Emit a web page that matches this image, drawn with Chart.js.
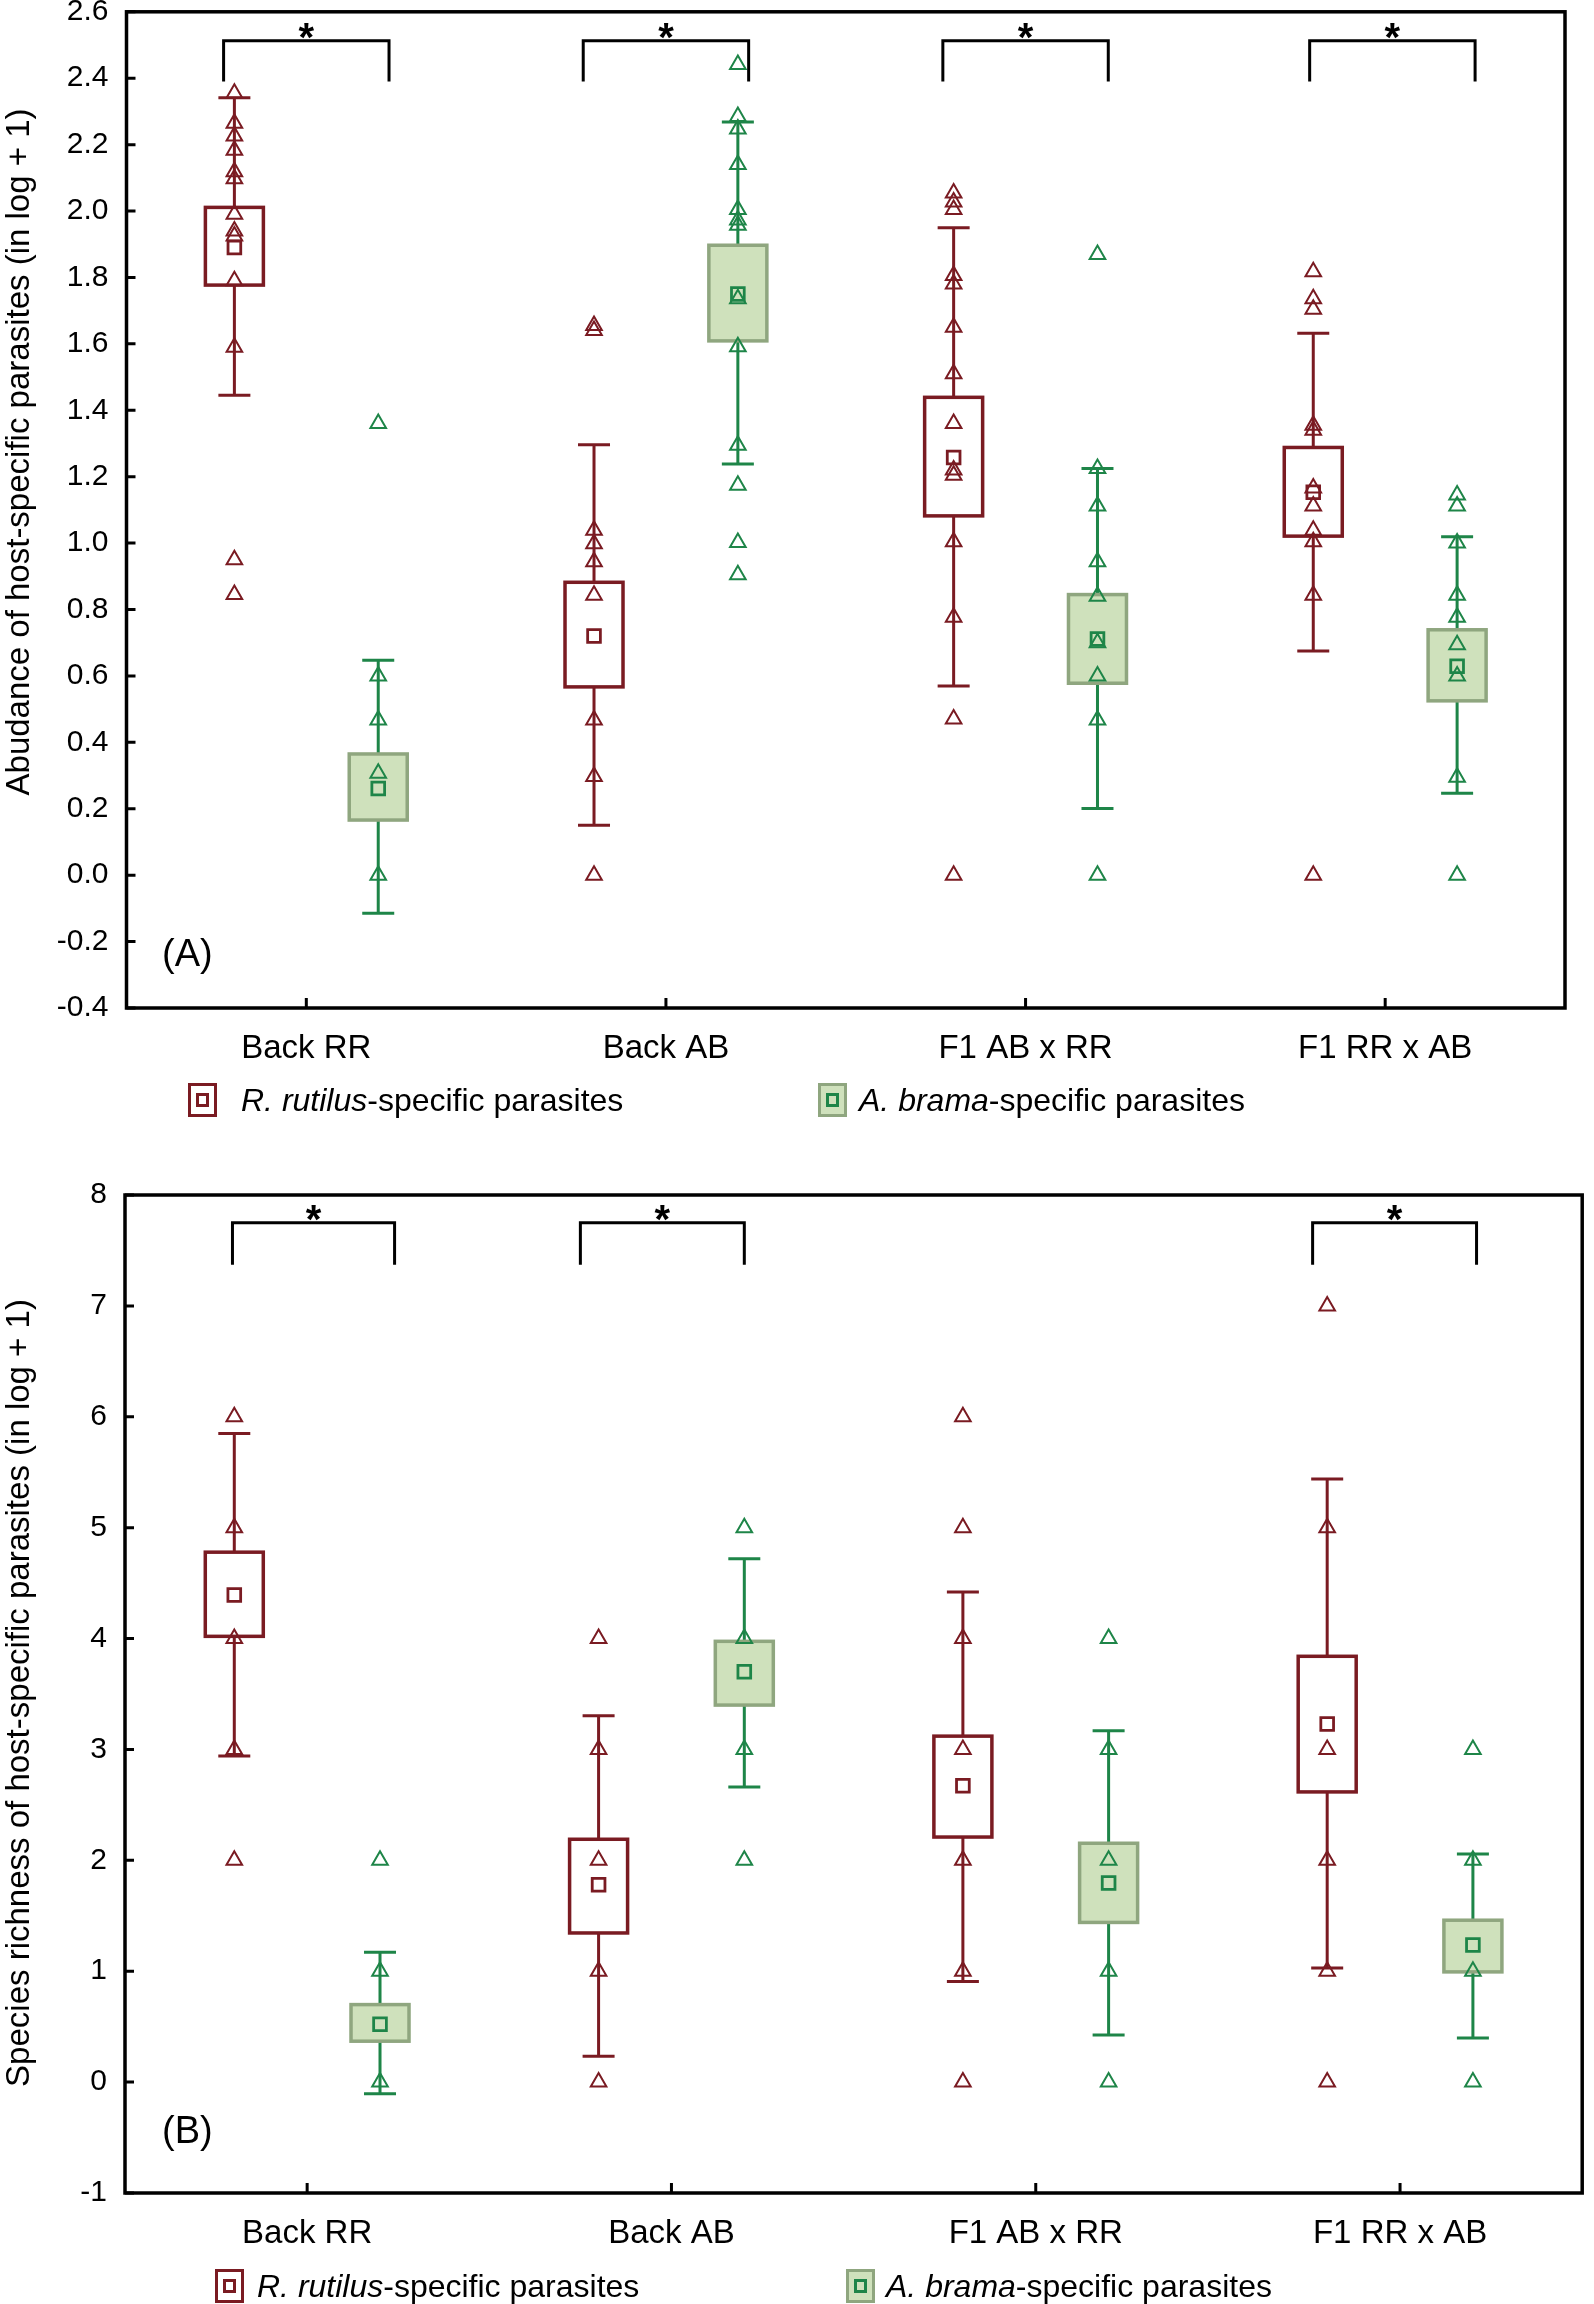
<!DOCTYPE html>
<html lang="en">
<head>
  <meta charset="UTF-8" />
  <title>Host-specific parasites in roach, bream and hybrids</title>
  <script src="https://cdn.jsdelivr.net/npm/chart.js"></script>
  <style>
    body {
      margin: 0;
      background: #fff;
      font-family: 'Liberation Sans', Arial, sans-serif;
    }
    .page {
      position: relative;
      width: 1594px;
      height: 2304px;
      overflow: hidden;
    }
    canvas {
      position: absolute;
      left: 0;
    }
    #chartA { top: 0; }
    #chartB { top: 1150px; }
    .key {
      position: absolute;
      box-sizing: border-box;
      width: 29px;
      height: 34px;
      border: 3px solid;
    }
    .key span {
      position: absolute;
      box-sizing: border-box;
      left: 5px;
      top: 7px;
      width: 13px;
      height: 14px;
      border: 3px solid;
    }
    .key.rut { border-color: #7a1b22; background: #fff; }
    .key.rut span { border-color: #7a1b22; }
    .key.bra { border-color: #8fa67f; background: #cfe1bc; }
    .key.bra span { border-color: #1e8548; }
    .legtext {
      position: absolute;
      height: 40px;
      line-height: 40px;
      font-size: 32px;
      color: #000;
      white-space: nowrap;
    }
  </style>
</head>
<body>
<div class="page">
  <canvas id="chartA" width="1594" height="1150"></canvas>
  <canvas id="chartB" width="1594" height="1154"></canvas>

  <div class="key rut" style="left:188px; top:1083px;"><span></span></div>
  <div class="legtext" style="left:241px; top:1080px;"><i>R. rutilus</i>-specific parasites</div>
  <div class="key bra" style="left:818px; top:1083px;"><span></span></div>
  <div class="legtext" style="left:859px; top:1080px;"><i>A. brama</i>-specific parasites</div>

  <div class="key rut" style="left:215px; top:2269px;"><span></span></div>
  <div class="legtext" style="left:257px; top:2266px;"><i>R. rutilus</i>-specific parasites</div>
  <div class="key bra" style="left:846px; top:2269px;"><span></span></div>
  <div class="legtext" style="left:886px; top:2266px;"><i>A. brama</i>-specific parasites</div>
</div>

<script>
  const categories = ['Back RR', 'Back AB', 'F1 AB x RR', 'F1 RR x AB'];

  // (A) abundance, R. rutilus-specific
  const abunRutMean = [1.89, 0.72, 1.258, 1.153];
  const abunRutBoxLow = [1.777, 0.567, 1.082, 1.021];
  const abunRutBoxHigh = [2.011, 0.882, 1.439, 1.288];
  const abunRutWhiskLow = [1.445, 0.15, 0.57, 0.675];
  const abunRutWhiskHigh = [2.341, 1.296, 1.95, 1.632];
  const abunRutPoints = [
    [2.355, 2.264, 2.226, 2.183, 2.118, 2.097, 1.99, 1.94, 1.925, 1.79, 1.59, 0.95, 0.845],
    [1.655, 1.64, 1.039, 0.998, 0.944, 0.843, 0.467, 0.297, 0.0],
    [2.054, 2.027, 2.005, 1.806, 1.78, 1.65, 1.51, 1.36, 1.22, 1.204, 1.004, 0.777, 0.47, 0.0],
    [1.817, 1.736, 1.704, 1.355, 1.34, 1.166, 1.112, 1.039, 1.004, 0.843, 0.0]
  ];

  // (A) abundance, A. brama-specific
  const abunBraMean = [0.261, 1.75, 0.711, 0.629];
  const abunBraBoxLow = [0.166, 1.609, 0.578, 0.525];
  const abunBraBoxHigh = [0.365, 1.897, 0.845, 0.739];
  const abunBraWhiskLow = [-0.115, 1.238, 0.201, 0.247];
  const abunBraWhiskHigh = [0.647, 2.268, 1.225, 1.019];
  const abunBraPoints = [
    [1.36, 0.60, 0.467, 0.307, 0.0],
    [2.441, 2.285, 2.247, 2.14, 2.005, 1.973, 1.957, 1.736, 1.591, 1.295, 1.174, 1.002, 0.905],
    [1.869, 1.225, 1.112, 0.944, 0.84, 0.70, 0.60, 0.467, 0.0],
    [1.145, 1.112, 1.0, 0.843, 0.777, 0.694, 0.60, 0.295, 0.0]
  ];
  const abunSignificant = ['Back RR', 'Back AB', 'F1 AB x RR', 'F1 RR x AB'];

  // (B) species richness, R. rutilus-specific
  const richRutMean = [4.393, 1.78, 2.672, 3.23];
  const richRutBoxLow = [4.02, 1.345, 2.21, 2.617];
  const richRutBoxHigh = [4.779, 2.19, 3.12, 3.84];
  const richRutWhiskLow = [2.942, 0.233, 0.907, 1.029];
  const richRutWhiskHigh = [5.85, 3.304, 4.42, 5.438];
  const richRutPoints = [
    [6, 5, 4, 3, 2],
    [4, 3, 2, 1, 0],
    [6, 5, 4, 3, 2, 1, 0],
    [7, 5, 3, 2, 1, 0]
  ];

  // (B) species richness, A. brama-specific
  const richBraMean = [0.522, 3.70, 1.796, 1.237];
  const richBraBoxLow = [0.369, 3.40, 1.44, 0.994];
  const richBraBoxHigh = [0.699, 3.975, 2.154, 1.46];
  const richBraWhiskLow = [-0.106, 2.662, 0.425, 0.397];
  const richBraWhiskHigh = [1.171, 4.72, 3.169, 2.057];
  const richBraPoints = [
    [2, 1, 0],
    [5, 4, 3, 2],
    [4, 3, 2, 1, 0],
    [3, 2, 1, 0]
  ];
  const richSignificant = ['Back RR', 'Back AB', 'F1 RR x AB'];

  const RED = '#7a1b22';
  const GREEN = '#1e8548';
  const GREEN_FILL = '#cfe1bc';
  const GREEN_EDGE = '#8fa67f';
  const FONT = "'Liberation Sans', Arial, sans-serif";

  function pointsData(points, offset) {
    const out = [];
    points.forEach((list, i) => list.forEach(v => out.push({ x: i + 1 + offset, y: v })));
    return out;
  }

  function meanData(means, offset) {
    return means.map((v, i) => ({ x: i + 1 + offset, y: v }));
  }

  function buildChart(id, cfg) {
    const groups = [
      { offset: -0.2, line: RED, fill: '#fff', edge: RED,
        mean: cfg.rut.mean, lo: cfg.rut.boxLow, hi: cfg.rut.boxHigh, wlo: cfg.rut.whiskLow, whi: cfg.rut.whiskHigh },
      { offset: 0.2, line: GREEN, fill: GREEN_FILL, edge: GREEN_EDGE,
        mean: cfg.bra.mean, lo: cfg.bra.boxLow, hi: cfg.bra.boxHigh, wlo: cfg.bra.whiskLow, whi: cfg.bra.whiskHigh }
    ];

    const boxes = {
      id: 'boxes',
      beforeDatasetsDraw(chart) {
        const { ctx, scales: { x, y } } = chart;
        ctx.save();
        groups.forEach(g => {
          g.mean.forEach((m, i) => {
            const px = x.getPixelForValue(i + 1 + g.offset);
            const yLo = y.getPixelForValue(g.wlo[i]);
            const yHi = y.getPixelForValue(g.whi[i]);
            ctx.strokeStyle = g.line;
            ctx.lineWidth = 3;
            ctx.beginPath();
            ctx.moveTo(px, yLo); ctx.lineTo(px, yHi);
            ctx.moveTo(px - 16, yLo); ctx.lineTo(px + 16, yLo);
            ctx.moveTo(px - 16, yHi); ctx.lineTo(px + 16, yHi);
            ctx.stroke();
            const bTop = y.getPixelForValue(g.hi[i]);
            const bBot = y.getPixelForValue(g.lo[i]);
            ctx.fillStyle = g.fill;
            ctx.fillRect(px - 29, bTop, 58, bBot - bTop);
            ctx.strokeStyle = g.edge;
            ctx.lineWidth = 3.5;
            ctx.strokeRect(px - 29, bTop, 58, bBot - bTop);
          });
        });
        ctx.restore();
      }
    };

    const frame = {
      id: 'frame',
      afterDatasetsDraw(chart) {
        const { ctx, chartArea: a, scales: { x, y } } = chart;
        ctx.save();
        ctx.strokeStyle = '#000';
        ctx.lineWidth = 3.5;
        ctx.strokeRect(a.left, a.top, a.right - a.left, a.bottom - a.top);
        ctx.lineWidth = 3;
        ctx.beginPath();
        y.ticks.forEach(t => {
          const py = y.getPixelForValue(t.value);
          ctx.moveTo(a.left, py); ctx.lineTo(a.left + 9, py);
        });
        x.ticks.forEach(t => {
          const px = x.getPixelForValue(t.value);
          ctx.moveTo(px, a.bottom); ctx.lineTo(px, a.bottom - 10);
        });
        ctx.stroke();

        // significance brackets
        ctx.lineWidth = 3;
        ctx.fillStyle = '#000';
        ctx.font = 'bold 40px ' + FONT;
        ctx.textAlign = 'center';
        ctx.textBaseline = 'alphabetic';
        cfg.significant.forEach((name, k) => {
          const c = categories.indexOf(name) + 1;
          const span = cfg.bracketSpan[k];
          const x0 = x.getPixelForValue(c + span[0]);
          const x1 = x.getPixelForValue(c + span[1]);
          const top = y.getPixelForValue(cfg.bracketTop);
          const foot = y.getPixelForValue(cfg.bracketFoot);
          ctx.beginPath();
          ctx.moveTo(x0, foot); ctx.lineTo(x0, top); ctx.lineTo(x1, top); ctx.lineTo(x1, foot);
          ctx.stroke();
          ctx.fillText('*', (x0 + x1) / 2, y.getPixelForValue(cfg.starY) + 24);
        });

        // panel letter
        ctx.font = '38px ' + FONT;
        ctx.textAlign = 'left';
        ctx.textBaseline = 'middle';
        ctx.fillText(cfg.panel, cfg.panelPos[0], cfg.panelPos[1]);

        // y axis title
        ctx.font = '33px ' + FONT;
        ctx.textAlign = 'center';
        ctx.translate(cfg.titlePos[0], cfg.titlePos[1]);
        ctx.rotate(-Math.PI / 2);
        ctx.fillText(cfg.yTitle, 0, 0);
        ctx.restore();
      }
    };

    return new Chart(document.getElementById(id), {
      type: 'scatter',
      data: {
        datasets: [
          { label: 'rutilus mean', data: meanData(cfg.rut.mean, -0.2), order: 1,
            pointStyle: 'rect', pointRadius: 9, borderColor: RED, borderWidth: 2.8, backgroundColor: 'transparent' },
          { label: 'brama mean', data: meanData(cfg.bra.mean, 0.2), order: 1,
            pointStyle: 'rect', pointRadius: 9, borderColor: GREEN, borderWidth: 2.8, backgroundColor: 'transparent' },
          { label: 'rutilus', data: pointsData(cfg.rut.points, -0.2), order: 2,
            pointStyle: 'triangle', pointRadius: 9, borderColor: RED, borderWidth: 2, backgroundColor: 'transparent' },
          { label: 'brama', data: pointsData(cfg.bra.points, 0.2), order: 2,
            pointStyle: 'triangle', pointRadius: 9, borderColor: GREEN, borderWidth: 2, backgroundColor: 'transparent' }
        ]
      },
      options: {
        responsive: false,
        animation: false,
        layout: { padding: cfg.padding },
        plugins: { legend: { display: false }, tooltip: { enabled: false } },
        scales: {
          x: {
            type: 'linear',
            min: 0.5,
            max: 4.5,
            afterBuildTicks: s => { s.ticks = categories.map((c, i) => ({ value: i + 1 })); },
            afterFit: s => { s.height = cfg.xAxisHeight; s.paddingLeft = 0; s.paddingRight = 0; },
            grid: { display: false, drawTicks: false },
            border: { display: false },
            ticks: {
              autoSkip: false,
              maxRotation: 0,
              padding: 21,
              color: '#000',
              font: { family: FONT, size: 33 },
              callback: v => categories[Math.round(v) - 1]
            }
          },
          y: {
            min: cfg.yMin,
            max: cfg.yMax,
            afterFit: s => { s.width = cfg.yAxisWidth; s.paddingTop = 0; s.paddingBottom = 0; },
            grid: { display: false, drawTicks: false },
            border: { display: false },
            ticks: {
              stepSize: cfg.yStep,
              padding: 18,
              color: '#000',
              font: { family: FONT, size: 30 },
              callback: v => v.toFixed(cfg.yDecimals)
            }
          }
        }
      },
      plugins: [boxes, frame]
    });
  }

  buildChart('chartA', {
    rut: { mean: abunRutMean, boxLow: abunRutBoxLow, boxHigh: abunRutBoxHigh,
           whiskLow: abunRutWhiskLow, whiskHigh: abunRutWhiskHigh, points: abunRutPoints },
    bra: { mean: abunBraMean, boxLow: abunBraBoxLow, boxHigh: abunBraBoxHigh,
           whiskLow: abunBraWhiskLow, whiskHigh: abunBraWhiskHigh, points: abunBraPoints },
    significant: abunSignificant,
    bracketSpan: [[-0.23, 0.23], [-0.23, 0.23], [-0.23, 0.23], [-0.21, 0.25]],
    bracketTop: 2.513,
    bracketFoot: 2.39,
    starY: 2.554,
    yMin: -0.4, yMax: 2.6, yStep: 0.2, yDecimals: 1,
    yTitle: 'Abudance of host-specific parasites (in log + 1)',
    titlePos: [20, 452],
    panel: '(A)',
    panelPos: [162, 956],
    padding: { top: 11.5, right: 29, left: 0, bottom: 0 },
    yAxisWidth: 126.5,
    xAxisHeight: 142
  });

  buildChart('chartB', {
    rut: { mean: richRutMean, boxLow: richRutBoxLow, boxHigh: richRutBoxHigh,
           whiskLow: richRutWhiskLow, whiskHigh: richRutWhiskHigh, points: richRutPoints },
    bra: { mean: richBraMean, boxLow: richBraBoxLow, boxHigh: richBraBoxHigh,
           whiskLow: richBraWhiskLow, whiskHigh: richBraWhiskHigh, points: richBraPoints },
    significant: richSignificant,
    bracketSpan: [[-0.205, 0.24], [-0.25, 0.2], [-0.24, 0.21]],
    bracketTop: 7.75,
    bracketFoot: 7.37,
    starY: 7.87,
    yMin: -1, yMax: 8, yStep: 1, yDecimals: 0,
    yTitle: 'Species richness of host-specific parasites (in log + 1)',
    titlePos: [20, 543],
    panel: '(B)',
    panelPos: [162, 983],
    padding: { top: 45, right: 3, left: 0, bottom: 0 },
    yAxisWidth: 125,
    xAxisHeight: 111
  });
</script>
</body>
</html>
